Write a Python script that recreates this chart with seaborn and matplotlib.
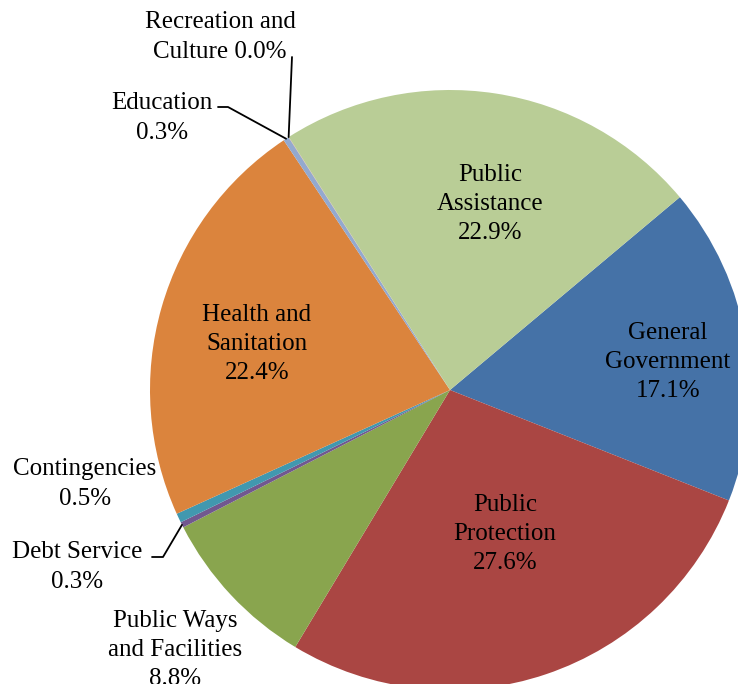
import numpy as np
import matplotlib
matplotlib.use("Agg")
import matplotlib.pyplot as plt
import seaborn as sns

categories = ["General\nGovernment", "Public\nProtection", "Public Ways\nand Facilities",
              "Debt Service", "Contingencies", "Health and\nSanitation", "Education",
              "Recreation and\nCulture", "Public\nAssistance"]
values = [17.1, 27.6, 8.8, 0.3, 0.5, 22.4, 0.3, 0.02, 22.9]
colors = ["#4572A7", "#AA4643", "#89A54E", "#71588F", "#4198AF", "#DB843D",
          "#93A9CF", "#D19392", "#B9CD96"]

sns.set_style("white")
plt.rcParams['font.family'] = ['Liberation Serif', 'DejaVu Serif']

W, H = 738, 684
fig = plt.figure(figsize=(W / 100, H / 100), dpi=100)
ax = fig.add_axes([0, 0, 1, 1])

cx, cy, R = 450, H - 390, 300
start = 40
wedges, _ = ax.pie(values, colors=colors, startangle=start, counterclock=False,
                   center=(cx, cy), radius=R, frame=True,
                   wedgeprops=dict(linewidth=0))
ax.set_xlim(0, W)
ax.set_ylim(0, H)
ax.set_aspect('equal')
ax.axis('off')

fs = 18
ls = 1.42
dy = 3

def P(x, y):
    return x, H - y

def pct(i):
    return f"{values[i]:.1f}%"

# Label positions (layout, in pixels from top-left)
label_pos = {0: (668, 359), 1: (505, 531), 5: (257, 341), 8: (490, 201),
             2: (175, 647), 3: (77, 564), 4: (85, 481), 6: (162, 115), 7: (220, 34)}
for i, (x, y) in label_pos.items():
    if i == 7:
        t = categories[i] + " " + pct(i)
    else:
        t = categories[i] + "\n" + pct(i)
    ax.text(*P(x, y + dy), t, ha='center', va='center', fontsize=fs, color='black',
            linespacing=ls)

# leader lines from wedge edges
def edge_point(w):
    ang = np.deg2rad((w.theta1 + w.theta2) / 2)
    return cx + R * np.cos(ang), cy + R * np.sin(ang)

def leader(i, pts):
    ex, ey = edge_point(wedges[i])
    xs = [P(*p)[0] for p in pts] + [ex]
    ys = [P(*p)[1] for p in pts] + [ey]
    ax.plot(xs, ys, color='black', lw=1.3)

leader(7, [(292, 57)])
leader(6, [(218, 107), (228, 107)])
leader(3, [(152, 557), (163, 557)])

fig.savefig("out.png", dpi=100, facecolor='white')
